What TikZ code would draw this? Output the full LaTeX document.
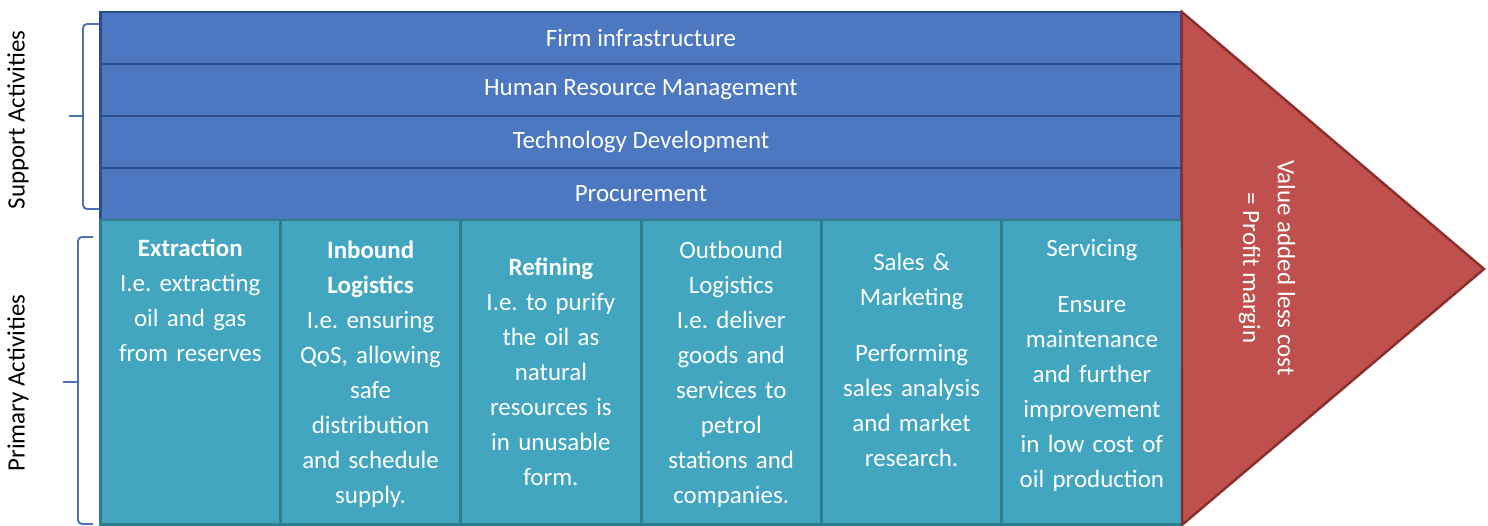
\documentclass[tikz,border=0pt]{standalone}
\usepackage{fontspec}
\setmainfont{Carlito}
\usepackage{xcolor}
\usetikzlibrary{shapes,positioning,calc}

\definecolor{supfill}{HTML}{4C78C2}
\definecolor{supline}{HTML}{2C4E8C}
\definecolor{primfill}{HTML}{42A6C0}
\definecolor{primline}{HTML}{2E7E8C}
\definecolor{marginfill}{HTML}{C0504D}
\definecolor{marginline}{HTML}{8A2F2B}
\definecolor{bracecol}{HTML}{4A72B4}

\newcommand{\chainfont}{\fontsize{14.2}{19.9}\selectfont}
\frenchspacing

\begin{document}
\begin{tikzpicture}[x=0.02cm,y=0.02cm,
  suprow/.style={draw=supline, line width=1.6pt, fill=supfill,
    minimum width=21.64cm, minimum height=1.04cm, inner sep=0, outer sep=0,
    text=white, font=\chainfont},
  primcell/.style={draw=primline, line width=1.6pt, fill=primfill,
    minimum width=3.6067cm, minimum height=6.1cm, inner sep=0, outer sep=0},
  celltext/.style={anchor=base, text width=3.4cm, align=center, inner sep=0,
    text=white, font=\chainfont},
  sidetext/.style={rotate=90, font=\chainfont},
  bracket/.style={draw=bracecol, line width=1.1pt, rounded corners=0.08cm}
]
  \useasboundingbox (0,0) rectangle (1488,526);

  % 辅助活动
  \node[suprow] (firm) at (641,488) {Firm infrastructure};
  \node[suprow, below=0pt of firm] (hrm) {Human Resource Management};
  \node[suprow, below=0pt of hrm] (tech) {Technology Development};
  \node[suprow, below=0pt of tech] (proc) {Procurement};

  % 基本活动
  \foreach \i in {1,...,6} {
    \node[primcell, anchor=north west] (c\i) at ($(proc.south west)+({(\i-1)*180.33},0)$) {};
  }
  \node[celltext] (t1) at ($(c1.north)+(0,-37)$)
    {\textbf{Extraction}\\ I.e. extracting\\ oil and gas\\ from reserves};
  \node[celltext] (t2) at ($(c2.north)+(0,-39)$)
    {\textbf{Inbound}\\ \textbf{Logistics}\\ I.e. ensuring\\ QoS, allowing\\ safe\\ distribution\\ and schedule\\ supply.};
  \node[celltext] (t3) at ($(c3.north)+(0,-56)$)
    {\textbf{Refining}\\ I.e. to purify\\ the oil as\\ natural\\ resources is\\ in unusable\\ form.};
  \node[celltext] (t4) at ($(c4.north)+(0,-39)$)
    {Outbound\\ Logistics\\ I.e. deliver\\ goods and\\ services to\\ petrol\\ stations and\\ companies.};
  \node[celltext] (t5) at ($(c5.north)+(0,-51)$)
    {Sales \&\\ Marketing\\[12pt] Performing\\ sales analysis\\ and market\\ research.};
  \node[celltext] (t6) at ($(c6.north)+(0,-37)$)
    {Servicing\\[12pt] Ensure\\ maintenance\\ and further\\ improvement\\ in low cost of\\ oil production};

  % 利润三角
  \coordinate (tip) at (1484,257);
  \draw[draw=marginline, fill=marginfill, line width=1.4pt, line join=miter]
    (firm.north east) -- (tip) -- (c6.south east) -- cycle;
  \node[rotate=-90, align=center, text=white, font=\chainfont] (margin) at (1267,258)
    {Value added less cost\\ = Profit margin};

  % 左侧括号
  \coordinate (suptop) at (99,502);
  \coordinate (supbot) at (99,317);
  \coordinate (supspine) at (83,410);
  \coordinate (suptip) at (69,410);
  \draw[bracket] (suptop) -| (supspine) |- (supbot);
  \draw[bracket] (supspine) -- (suptip);
  \coordinate (primtop) at (93,289);
  \coordinate (primbot) at (93,2);
  \coordinate (primspine) at (78,144);
  \coordinate (primtip) at (63,144);
  \draw[bracket] (primtop) -| (primspine) |- (primbot);
  \draw[bracket] (primspine) -- (primtip);

  \node[sidetext] (suplab) at (18,406) {Support Activities};
  \node[sidetext] (primlab) at (18,143) {Primary Activities};
\end{tikzpicture}
\end{document}
